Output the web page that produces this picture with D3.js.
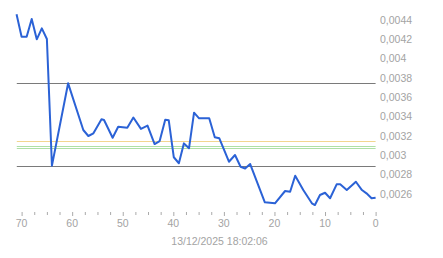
<!DOCTYPE html>
<html><head><meta charset="utf-8">
<script src="https://cdn.jsdelivr.net/npm/d3@7"></script>
<style>html,body{margin:0;padding:0;background:#fff;}svg{display:block;}</style>
</head><body>
<script>
// minutes ago
const minutes = [71,70,69,68,67,66,65,64,60.8,57.8,56.8,55.8,54.2,53.7,52,50.9,49.1,47.9,46.4,45.1,43.7,42.7,41.6,40.9,39.9,38.9,37.9,36.9,35.9,34.9,32.9,31.8,30.9,29,27.8,26.7,25.8,24.8,21.9,19.9,17.9,16.9,15.9,14.3,12.6,12,11,10,9,7.7,7,5.7,3.9,2.7,1.8,0.8,0];
const values = [0.004459,0.004227,0.004227,0.004410,0.004200,0.004314,0.004203,0.002893,0.003745,0.003262,0.003200,0.003228,0.003373,0.003366,0.003182,0.003296,0.003286,0.003391,0.003274,0.003307,0.003117,0.003148,0.003369,0.003362,0.002980,0.002918,0.003124,0.003073,0.003441,0.003383,0.003383,0.003187,0.003176,0.002934,0.003003,0.002882,0.002864,0.002910,0.002514,0.002504,0.002631,0.002624,0.002789,0.002641,0.002504,0.002486,0.002590,0.002613,0.002556,0.002700,0.002700,0.002641,0.002727,0.002641,0.002607,0.002556,0.002562];
const yTicks = [0.0026,0.0028,0.003,0.0032,0.0034,0.0036,0.0038,0.004,0.0042,0.0044];
const yTickLabels = ["0,0026","0,0028","0,003","0,0032","0,0034","0,0036","0,0038","0,004","0,0042","0,0044"];
const xTicks = [0,10,20,30,40,50,60,70];
const refBlack = [0.003748,0.002887];
const refYellow = [0.003148];
const refGreen = [0.003097,0.003076];
const dateLabel = "13/12/2025 18:02:06";

const W=443,H=258;
const svg=d3.select("body").append("svg").attr("width",W).attr("height",H);
const x=d3.scaleLinear().domain([0,70]).range([375.6,21.6]);
const y=d3.scaleLinear().domain([0.0026,0.0044]).range([194,20]);
const x0=x(70.95), x1=x(0);

const font="'Liberation Sans', Arial, sans-serif";
// reference lines
function hl(vals,color){
  svg.selectAll(null).data(vals).enter().append("line")
    .attr("x1",x0).attr("x2",x1)
    .attr("y1",d=>Math.round(y(d))+0.5).attr("y2",d=>Math.round(y(d))+0.5)
    .attr("stroke",color).attr("stroke-width",1);
}
hl(refYellow,"#f2d68f");
hl(refGreen,"#aee0a6");
hl(refBlack,"#7a7a7a");

// line
const line=d3.line().x((d,i)=>x(minutes[i])).y(d=>y(d));
svg.append("path").datum(values).attr("d",line)
  .attr("fill","none").attr("stroke","#2b62d6").attr("stroke-width",2).attr("stroke-linejoin","round");

// y labels
svg.selectAll(null).data(yTicks).enter().append("text")
  .attr("x",380).attr("y",d=>y(d)).attr("dy","0.36em")
  .attr("font-family",font).attr("font-size","10.5px").attr("fill","#a3a3a3")
  .text((d,i)=>yTickLabels[i]);

// x axis
const xAxis=d3.axisBottom(x).tickValues(d3.range(0,70.1,2.5)).tickSize(3).tickFormat("");
const gx=svg.append("g").attr("transform","translate(0,212)").call(xAxis);
gx.select(".domain").remove();
gx.selectAll(".tick line").attr("stroke","#aaa").attr("y2",d=>d%10===0?4:3);
svg.selectAll(null).data(xTicks).enter().append("text")
  .attr("x",d=>x(d)).attr("y",226.5).attr("text-anchor","middle")
  .attr("font-family",font).attr("font-size","10.5px").attr("fill","#a3a3a3")
  .text(d=>d);
svg.append("text").attr("x",219.5).attr("y",244.5).attr("text-anchor","middle")
  .attr("font-family",font).attr("font-size","10.5px").attr("fill","#a3a3a3")
  .text(dateLabel);
</script>
</body></html>
